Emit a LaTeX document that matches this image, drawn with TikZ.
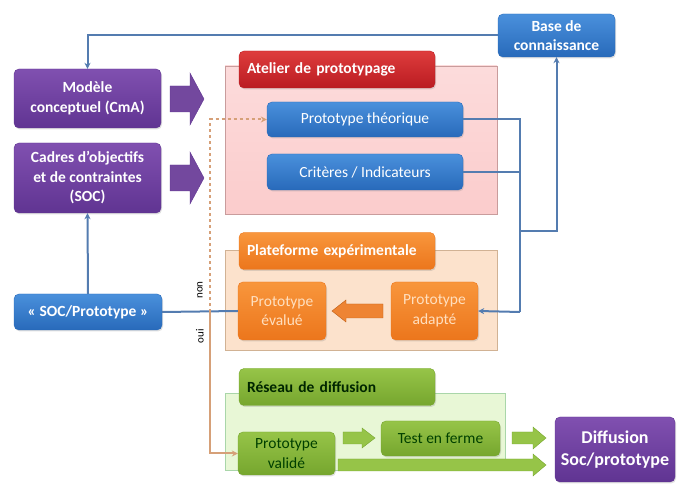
\documentclass[tikz,border=0pt]{standalone}
\usepackage{fontspec}
\setmainfont{Carlito}
\usetikzlibrary{arrows.meta,shadows}

\definecolor{purpleL}{RGB}{128,80,176}
\definecolor{purpleD}{RGB}{96,52,146}
\definecolor{blueL}{RGB}{74,144,220}
\definecolor{blueD}{RGB}{40,106,186}
\definecolor{redL}{RGB}{222,60,60}
\definecolor{redD}{RGB}{186,28,34}
\definecolor{orangeL}{RGB}{248,150,60}
\definecolor{orangeD}{RGB}{236,118,28}
\definecolor{greenL}{RGB}{150,196,72}
\definecolor{greenD}{RGB}{118,166,46}
\definecolor{linkblue}{RGB}{84,124,176}
\definecolor{linktan}{RGB}{214,160,120}
\definecolor{pinkzone}{RGB}{251,204,204}
\definecolor{orangezone}{RGB}{252,226,204}
\definecolor{greenzone}{RGB}{232,247,214}

\tikzset{
  box/.style={rounded corners=5pt, align=center, inner sep=2pt,
    font=\fontsize{15.5}{19.5}\selectfont,
    drop shadow={opacity=0.25,shadow xshift=1pt,shadow yshift=-1.5pt}},
  purplebox/.style={box, top color=purpleL, bottom color=purpleD,
    draw=purpleD, text=white, font=\bfseries\fontsize{15.5}{19.5}\selectfont},
  bluebox/.style={box, top color=blueL, bottom color=blueD, draw=blueD, text=white},
  orangebox/.style={box, top color=orangeL, bottom color=orangeD, draw=orangeD,
    text=orange!25!white},
  greenbox/.style={box, top color=greenL, bottom color=greenD, draw=greenD,
    text=black!75!green},
  tab/.style={box, align=left, text width=180pt, inner xsep=8pt,
    minimum width=196pt, minimum height=37pt,
    font=\bfseries\fontsize{15.5}{19.5}\selectfont},
  zone/.style={line width=0.7pt},
  conn/.style={draw=linkblue, line width=2pt, -{Stealth[length=6pt,width=6pt]}},
  link/.style={draw=linktan, line width=2pt, -{Stealth[length=6pt,width=6pt]}},
}

\begin{document}
\begin{tikzpicture}[x=1pt,y=-1pt]

\useasboundingbox (0,0) rectangle (681,486);

% containers
\draw[zone, draw=red!30!gray!60, top color=pinkzone!70!white, bottom color=pinkzone]
  (225,66) rectangle (497,214);
\draw[zone, draw=orange!40!gray!60, fill=orangezone]
  (225,250) rectangle (497,350);
\draw[zone, draw=green!35!gray!50, fill=greenzone]
  (225,393) rectangle (505,470);

% tabs
\node[tab, top color=redL, bottom color=redD, draw=redD, text=white] (atelier) at (337,69.5)
  {Atelier de prototypage};
\node[tab, top color=orangeL, bottom color=orangeD, draw=orangeD, text=white] (plateforme) at (337,251)
  {Plateforme expérimentale};
\node[tab, top color=greenL, bottom color=greenD, draw=greenD, text=black!85!green] (reseau) at (337,387)
  {Réseau de diffusion};

% boxes
\node[bluebox, font=\bfseries\fontsize{15.5}{19.5}\selectfont,
  minimum width=117pt, minimum height=43pt] (base) at (556.5,35.5)
  {Base de\\connaissance};
\node[purplebox, minimum width=147pt, minimum height=59pt] (modele) at (87.5,98.5)
  {Modèle\\conceptuel (CmA)};
\node[purplebox, minimum width=147pt, minimum height=70pt] (cadres) at (87.5,178)
  {Cadres d’objectifs\\et de contraintes\\(SOC)};
\node[bluebox, font=\bfseries\fontsize{15.5}{19.5}\selectfont,
  minimum width=148pt, minimum height=36pt] (socproto) at (88,312)
  {« SOC/Prototype »};

\node[bluebox, minimum width=196pt, minimum height=35pt] (theorique) at (365,119.5)
  {Prototype théorique};
\node[bluebox, minimum width=196pt, minimum height=36pt] (criteres) at (365,172)
  {Critères / Indicateurs};

\node[orangebox, minimum width=88pt, minimum height=58pt] (evalue) at (282,311)
  {Prototype\\évalué};
\node[orangebox, minimum width=87pt, minimum height=58pt] (adapte) at (434.5,311)
  {Prototype\\adapté};

\node[greenbox, minimum width=97pt, minimum height=43pt] (valide) at (286.5,453.5)
  {Prototype\\validé};
\node[greenbox, minimum width=119pt, minimum height=35pt] (ferme) at (440.5,438.5)
  {Test en ferme};
\node[purplebox, font=\bfseries\fontsize{18}{22}\selectfont,
  minimum width=120pt, minimum height=65pt] (diffusion) at (615,449.5)
  {Diffusion\\Soc/prototype};

% block arrows
\filldraw[fill=purpleL!90!black, draw=purpleD]
  (170,86) -- (190,86) -- (190,73) -- (204,99) -- (190,125) -- (190,112) -- (170,112) -- cycle;
\filldraw[fill=purpleL!90!black, draw=purpleD]
  (170,165) -- (190,165) -- (190,152) -- (204,178) -- (190,204) -- (190,191) -- (170,191) -- cycle;
\filldraw[fill=orangeD!90!white, draw=orangeD!80!black]
  (383,304) -- (346,304) -- (346,300) -- (332,311) -- (346,322) -- (346,318) -- (383,318) -- cycle;
\filldraw[fill=greenL, draw=greenD]
  (343,432) -- (362,432) -- (362,428) -- (375,438) -- (362,448) -- (362,444) -- (343,444) -- cycle;
\filldraw[fill=greenL, draw=greenD]
  (512,432) -- (533,432) -- (533,427) -- (546,438) -- (533,449) -- (533,444) -- (512,444) -- cycle;
\filldraw[fill=greenL, draw=greenD]
  (338,459) -- (533,459) -- (533,454) -- (546,465) -- (533,476) -- (533,471) -- (338,471) -- cycle;

% connectors
\coordinate (bus) at (520,312);
\coordinate (busk) at (520,231);
\coordinate (split) at (210,312);

\draw[conn] (base.west) -| (modele.north);
\draw[conn] (socproto.north) -- (cadres.south);
\draw[conn, -] (socproto.east) -- (evalue.west);
\draw[conn, -] (theorique.east) -| (bus);
\draw[conn, -] (criteres.east) -- (criteres.east -| bus);
\draw[conn] (bus) -- (adapte.east);
\draw[conn] (busk) -| (base.south);

\draw[link, dashed] (split) |- (theorique.west);
\draw[link] (split) |- (valide.west);

\node[rotate=90, font=\fontsize{11}{12}\selectfont] (non) at (200,290) {non};
\node[rotate=90, font=\fontsize{11}{12}\selectfont] (oui) at (200,336) {oui};

\end{tikzpicture}
\end{document}
